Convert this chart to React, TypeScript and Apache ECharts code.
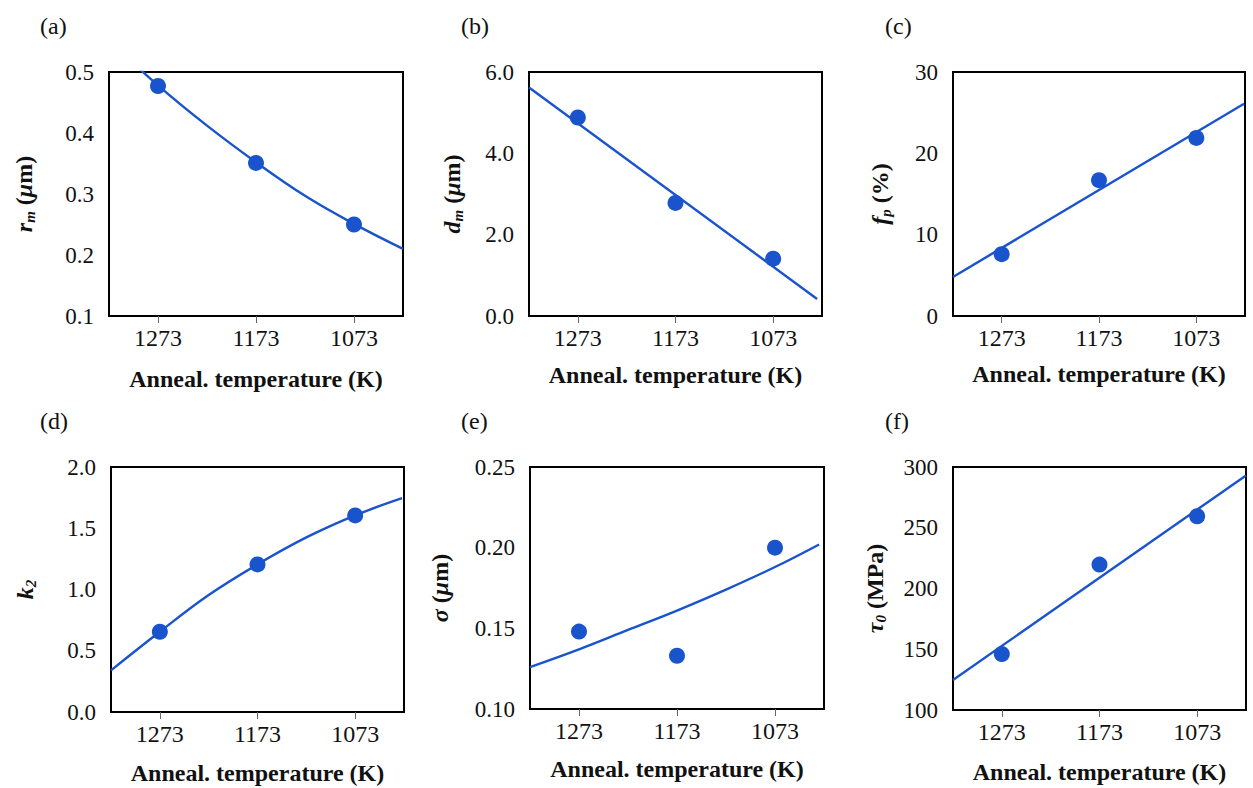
import React, { useEffect, useRef } from "react";
import * as echarts from "echarts";

// x tick temperatures (K)
const tickTemps = [1273, 1173, 1073];
const measuredTemps = [1273, 1173, 1073];

// (a) r_m (um)
const rmPoints = [0.477, 0.351, 0.25];
const rmFitT = [1323, 1273, 1223, 1173, 1123, 1073, 1023];
const rmFitV = [0.552, 0.478, 0.412, 0.352, 0.297, 0.251, 0.21];

// (b) d_m (um)
const dmPoints = [4.88, 2.78, 1.41];
const dmFitT = [1323, 1028];
const dmFitV = [5.62, 0.42];

// (c) f_p (%)
const fpPoints = [7.6, 16.7, 21.9];
const fpFitT = [1323, 1024];
const fpFitV = [4.8, 26.1];

// (d) k_2
const k2Points = [0.655, 1.205, 1.605];
const k2FitT = [1323, 1273, 1223, 1173, 1123, 1073, 1025];
const k2FitV = [0.34, 0.655, 0.955, 1.205, 1.425, 1.605, 1.745];

// (e) sigma (um)
const sigPoints = [0.148, 0.133, 0.2];
const sigFitT = [1323, 1273, 1223, 1173, 1123, 1073, 1028];
const sigFitV = [0.126, 0.137, 0.149, 0.161, 0.174, 0.188, 0.202];

// (f) tau_0 (MPa)
const tauPoints = [146, 219.7, 259.5];
const tauFitT = [1323, 1023];
const tauFitV = [124.7, 293];

const panelLetters = ["(a)", "(b)", "(c)", "(d)", "(e)", "(f)"];
const xTitle = "Anneal. temperature (K)";

const BLUE = "#1a54cc";
const SERIF = "Liberation Serif";
const XTICK_FS = 24;
const YTICK_FS = 23;
const TITLE_FS = 24;

type Panel = {
  letter: string;
  grid: { left: number; top: number; width: number; height: number };
  letterPos: { left: number; top: number };
  yMin: number;
  yMax: number;
  yInterval: number;
  decimals: number;
  yName: string;
  yNameGap: number;
  xNameGap: number;
  points: number[];
  fitT: number[];
  fitV: number[];
  smooth: boolean;
};

const panels: Panel[] = [
  {
    letter: panelLetters[0],
    grid: { left: 109, top: 72, width: 294, height: 244 },
    letterPos: { left: 35, top: 9 },
    yMin: 0.1, yMax: 0.5, yInterval: 0.1, decimals: 1,
    yName: "{bi|r}{sub|m}{b| (}{bi|μ}{b|m)}",
    yNameGap: 72, xNameGap: 51,
    points: rmPoints, fitT: rmFitT, fitV: rmFitV, smooth: true,
  },
  {
    letter: panelLetters[1],
    grid: { left: 529, top: 72, width: 293, height: 244 },
    letterPos: { left: 456, top: 9 },
    yMin: 0, yMax: 6, yInterval: 2, decimals: 1,
    yName: "{bi|d}{sub|m}{b| (}{bi|μ}{b|m)}",
    yNameGap: 64, xNameGap: 47,
    points: dmPoints, fitT: dmFitT, fitV: dmFitV, smooth: false,
  },
  {
    letter: panelLetters[2],
    grid: { left: 953, top: 72, width: 292, height: 244 },
    letterPos: { left: 880, top: 9 },
    yMin: 0, yMax: 30, yInterval: 10, decimals: 0,
    yName: "{bi|f}{sub|p}{b| (%)}",
    yNameGap: 60, xNameGap: 46,
    points: fpPoints, fitT: fpFitT, fitV: fpFitV, smooth: false,
  },
  {
    letter: panelLetters[3],
    grid: { left: 111, top: 467, width: 293, height: 245 },
    letterPos: { left: 35, top: 404 },
    yMin: 0, yMax: 2, yInterval: 0.5, decimals: 1,
    yName: "{bi|k}{sub|2}",
    yNameGap: 73, xNameGap: 49,
    points: k2Points, fitT: k2FitT, fitV: k2FitV, smooth: true,
  },
  {
    letter: panelLetters[4],
    grid: { left: 530, top: 467, width: 294, height: 242 },
    letterPos: { left: 456, top: 404 },
    yMin: 0.1, yMax: 0.25, yInterval: 0.05, decimals: 2,
    yName: "{bi|σ}{b| (}{bi|μ}{b|m)}",
    yNameGap: 77, xNameGap: 48,
    points: sigPoints, fitT: sigFitT, fitV: sigFitV, smooth: true,
  },
  {
    letter: panelLetters[5],
    grid: { left: 953, top: 467, width: 293, height: 243 },
    letterPos: { left: 880, top: 404 },
    yMin: 100, yMax: 300, yInterval: 50, decimals: 0,
    yName: "{bi|τ}{sub|0}{b| (MPa)}",
    yNameGap: 65, xNameGap: 50,
    points: tauPoints, fitT: tauFitT, fitV: tauFitV, smooth: false,
  },
];

function buildOption() {
  const grid: any[] = [];
  const xAxis: any[] = [];
  const yAxis: any[] = [];
  const series: any[] = [];
  const title: any[] = [];

  panels.forEach((p, i) => {
    grid.push({
      ...p.grid,
      show: true,
      borderColor: "#000",
      borderWidth: 2,
      backgroundColor: "transparent",
    });
    title.push({
      text: p.letter,
      left: p.letterPos.left,
      top: p.letterPos.top,
      textStyle: { fontFamily: SERIF, fontWeight: "normal", fontSize: TITLE_FS, color: "#111" },
    });
    xAxis.push({
      type: "value",
      gridIndex: i,
      min: 1023,
      max: 1323,
      inverse: true,
      splitLine: { show: false },
      axisLine: { show: true, onZero: false, lineStyle: { color: "#000", width: 2 } },
      axisTick: {
        show: true,
        customValues: tickTemps,
        length: 7,
        inside: false,
        lineStyle: { color: "#666", width: 1 },
      },
      axisLabel: {
        customValues: tickTemps,
        fontFamily: SERIF,
        fontSize: XTICK_FS,
        color: "#111",
        margin: 10,
        formatter: (v: number) => String(v),
      },
      name: xTitle,
      nameLocation: "middle",
      nameGap: p.xNameGap,
      nameTextStyle: { fontFamily: SERIF, fontSize: TITLE_FS, fontWeight: "bold", color: "#111" },
    });
    yAxis.push({
      type: "value",
      gridIndex: i,
      min: p.yMin,
      max: p.yMax,
      interval: p.yInterval,
      splitLine: { show: false },
      axisLine: { show: true, onZero: false, lineStyle: { color: "#000", width: 2 } },
      axisTick: { show: false },
      axisLabel: {
        fontFamily: SERIF,
        fontSize: YTICK_FS,
        color: "#111",
        margin: 15,
        formatter: (v: number) => v.toFixed(p.decimals),
      },
      name: p.yName,
      nameLocation: "middle",
      nameRotate: 90,
      nameGap: p.yNameGap,
      nameTextStyle: {
        fontFamily: SERIF,
        fontSize: TITLE_FS,
        fontWeight: "bold",
        color: "#111",
        rich: {
          b: { fontFamily: SERIF, fontSize: TITLE_FS, fontWeight: "bold", color: "#111", lineHeight: 26 },
          bi: {
            fontFamily: SERIF,
            fontSize: TITLE_FS,
            fontWeight: "bold",
            fontStyle: "italic",
            color: "#111",
            lineHeight: 26,
          },
          sub: {
            fontFamily: SERIF,
            fontSize: 15,
            fontWeight: "bold",
            fontStyle: "italic",
            color: "#111",
            lineHeight: 8,
            verticalAlign: "bottom",
          },
        },
      },
    });
    series.push({
      type: "line",
      xAxisIndex: i,
      yAxisIndex: i,
      data: p.fitT.map((t, k) => [t, p.fitV[k]]),
      smooth: p.smooth ? 0.4 : false,
      showSymbol: false,
      clip: true,
      lineStyle: { color: BLUE, width: 2.4 },
      z: 2,
    });
    series.push({
      type: "scatter",
      xAxisIndex: i,
      yAxisIndex: i,
      data: measuredTemps.map((t, k) => [t, p.points[k]]),
      symbol: "circle",
      symbolSize: 16,
      itemStyle: { color: BLUE, opacity: 1 },
      z: 3,
    });
  });

  return {
    animation: false,
    backgroundColor: "#fff",
    textStyle: { fontFamily: SERIF },
    title,
    grid,
    xAxis,
    yAxis,
    series,
  };
}

export default function App() {
  const ref = useRef<HTMLDivElement>(null);
  useEffect(() => {
    if (!ref.current) return;
    const chart = echarts.init(ref.current, undefined, { renderer: "svg" });
    chart.setOption(buildOption() as any);
    return () => chart.dispose();
  }, []);
  return (
    <div
      ref={ref}
      style={{ position: "absolute", left: 0, top: 0, width: 1253, height: 788, background: "#fff" }}
    />
  );
}
